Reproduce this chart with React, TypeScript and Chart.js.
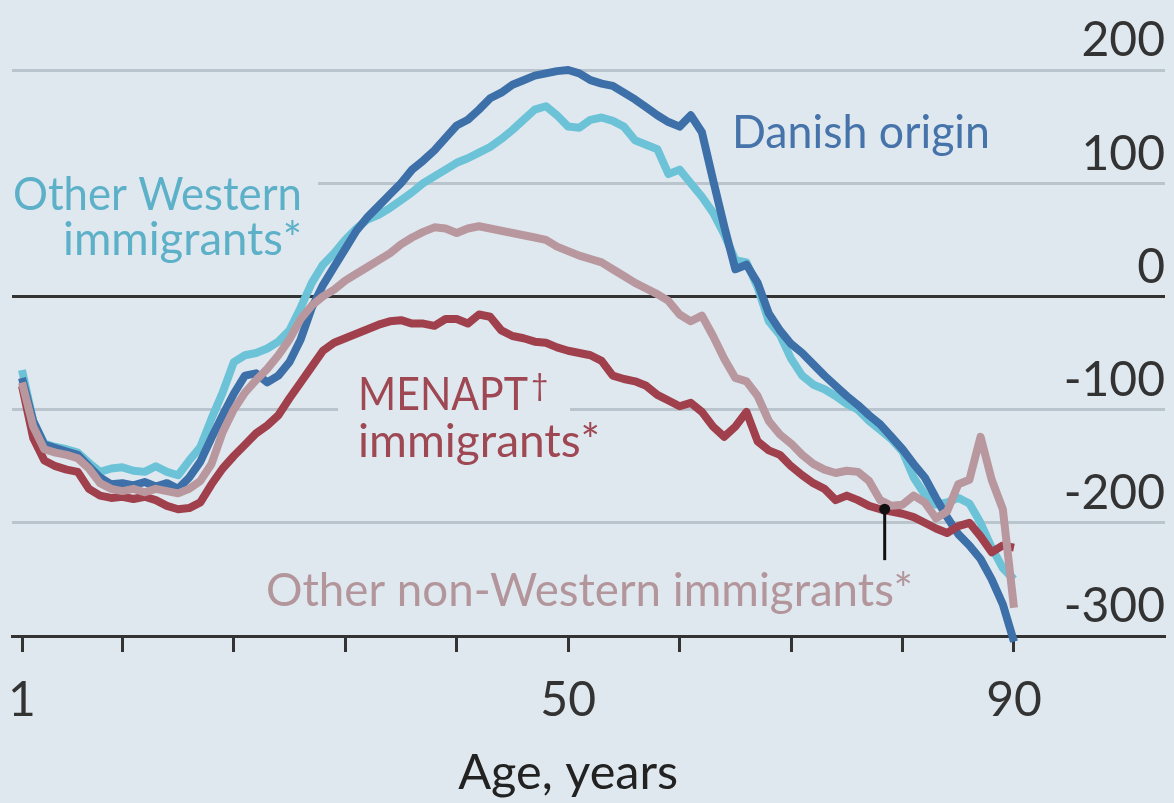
import { useEffect, useRef } from "react";
import { Chart, registerables } from "chart.js";

Chart.register(...registerables);

// ---------- data ----------
const ages: number[] = Array.from({ length: 90 }, (_, i) => i + 1);

const danishOrigin: number[] = [
  -72, -110, -131, -134, -137, -140, -150, -160, -166, -165,
  -167, -164, -168, -165, -170, -160, -146, -125, -105, -86,
  -70, -68, -76, -70, -58, -38, -10, 10, 26, 42,
  58, 70, 80, 90, 100, 112, 120, 129, 140, 151,
  156, 165, 175, 180, 187, 191, 195, 197, 199, 200,
  197, 191, 188, 186, 180, 174, 167, 160, 154, 150,
  160, 145, 103, 62, 24, 28, 12, -15, -30, -42,
  -50, -60, -70, -79, -88, -96, -105, -113, -124, -135,
  -148, -160, -178, -195, -210, -220, -232, -250, -272, -305,
];

const otherWestern: number[] = [
  -65, -110, -130, -133, -135, -138, -147, -155, -152, -151,
  -154, -155, -150, -155, -158, -145, -133, -108, -85, -58,
  -52, -50, -46, -40, -30, -10, 12, 28, 38, 50,
  60, 68, 72, 78, 85, 92, 100, 106, 112, 118,
  122, 127, 132, 139, 147, 156, 165, 168, 160, 150,
  149, 156, 158, 155, 150, 138, 134, 130, 108, 112,
  100, 88, 74, 55, 32, 30, 8, -22, -34, -55,
  -70, -78, -82, -88, -95, -100, -110, -118, -126, -137,
  -160, -175, -184, -182, -178, -183, -200, -222, -240, -250,
];

const menapt: number[] = [
  -79, -125, -145, -150, -153, -155, -170, -176, -178, -177,
  -179, -177, -180, -185, -188, -187, -182, -166, -152, -141,
  -131, -121, -114, -105, -90, -76, -62, -48, -41, -37,
  -33, -29, -25, -22, -21, -24, -24, -26, -20, -20,
  -24, -16, -18, -30, -35, -37, -40, -41, -45, -48,
  -50, -52, -57, -70, -73, -75, -79, -87, -92, -97,
  -94, -102, -115, -124, -115, -102, -128, -136, -140, -150,
  -158, -165, -170, -180, -176, -180, -185, -188, -190, -192,
  -195, -200, -205, -209, -203, -200, -212, -226, -220, -222,
];

const otherNonWestern: number[] = [
  -76, -115, -135, -138, -140, -143, -152, -165, -170, -172,
  -170, -173, -170, -172, -174, -170, -163, -148, -120, -100,
  -85, -74, -64, -52, -38, -20, -8, 0, 6, 14,
  20, 26, 32, 38, 46, 52, 57, 61, 60, 56,
  60, 62, 60, 58, 56, 54, 52, 50, 44, 40,
  36, 33, 30, 24, 18, 12, 7, 2, -4, -16,
  -22, -17, -35, -55, -72, -75, -88, -110, -122, -130,
  -140, -148, -153, -156, -154, -155, -163, -180, -185, -184,
  -176, -182, -196, -190, -166, -162, -124, -162, -188, -275,
];

const xTickValues: number[] = [1, 10, 20, 30, 40, 50, 60, 70, 80, 90];
const xTickLabels: number[] = [1, 50, 90];
const yTickValues: number[] = [-300, -200, -100, 0, 100, 200];
const xTitle = "Age, years";
const xTitleCenterAge = 50;

// annotation anchor (age, value) for the "Other non-Western" pointer
const pointerAge = 78.4;
const pointerValue = -188;
const pointerEndValue = -233;

// ---------- styles ----------
const BG = "#dfe8ee";
const FONT = 'Lato, "Open Sans", sans-serif';
const C_DANISH = "#3d6fa8";
const C_WEST = "#6cc3d8";
const C_MENAPT = "#a0404c";
const C_NONWEST = "#b8989e";

type Lbl = {
  text: string;
  x: number;
  y: number;
  w: number;
  align: CanvasTextAlign;
  color: string;
  sup?: string;
};

const LABELS: Lbl[] = [
  { text: "Other Western", x: 302, y: 210, w: 289, align: "right", color: "#5cb0c8" },
  { text: "immigrants*", x: 302, y: 255, w: 239, align: "right", color: "#5cb0c8" },
  { text: "MENAPT", x: 358, y: 410, w: 170, align: "left", color: "#9e4854", sup: "\u2020" },
  { text: "immigrants*", x: 358, y: 457, w: 242, align: "left", color: "#9e4854" },
  { text: "Danish origin", x: 732, y: 148, w: 258, align: "left", color: "#4573aa" },
  { text: "Other non-Western immigrants*", x: 913, y: 606, w: 647, align: "right", color: "#b3969c" },
];

const KNOCKOUTS = [
  { x: 4, y: 160, w: 314, h: 110 },
  { x: 338, y: 366, w: 232, h: 106 },
];

function fitText(
  ctx: CanvasRenderingContext2D,
  text: string,
  x: number,
  y: number,
  w: number,
  align: CanvasTextAlign,
  color: string,
  size: number
) {
  ctx.save();
  ctx.font = `${size}px ${FONT}`;
  ctx.textBaseline = "alphabetic";
  const m = ctx.measureText(text).width;
  ctx.translate(x, y);
  ctx.scale(w / m, 1);
  ctx.textAlign = align;
  ctx.fillStyle = color;
  ctx.fillText(text, 0, 0);
  ctx.restore();
}

const overlayPlugin = {
  id: "overlay",
  beforeDraw(chart: any) {
    const ctx = chart.ctx;
    ctx.save();
    ctx.fillStyle = BG;
    ctx.fillRect(0, 0, chart.width, chart.height);
    ctx.restore();
  },
  beforeDatasetsDraw(chart: any) {
    const ctx: CanvasRenderingContext2D = chart.ctx;
    ctx.save();
    ctx.fillStyle = BG;
    KNOCKOUTS.forEach((k) => ctx.fillRect(k.x, k.y, k.w, k.h));
    LABELS.forEach((l) => {
      fitText(ctx, l.text, l.x, l.y, l.w, l.align, l.color, 46);
      if (l.sup) {
        ctx.save();
        ctx.font = `30px ${FONT}`;
        ctx.fillStyle = l.color;
        ctx.textAlign = "left";
        ctx.textBaseline = "alphabetic";
        ctx.fillText(l.sup, l.x + l.w + 3, l.y - 14);
        ctx.restore();
      }
    });
    // axis title, centred under the 50 tick
    const xs = chart.scales.x;
    fitText(ctx, xTitle, xs.getPixelForValue(xTitleCenterAge), 789, 220, "center", "#222", 48);
    ctx.restore();
  },
  afterDatasetsDraw(chart: any) {
    const ctx: CanvasRenderingContext2D = chart.ctx;
    const xs = chart.scales.x;
    const ys = chart.scales.y;
    const px = xs.getPixelForValue(pointerAge);
    const py = ys.getPixelForValue(pointerValue);
    const py2 = ys.getPixelForValue(pointerEndValue);
    ctx.save();
    ctx.strokeStyle = "#111";
    ctx.lineWidth = 3;
    ctx.beginPath();
    ctx.moveTo(px, py);
    ctx.lineTo(px, py2);
    ctx.stroke();
    ctx.fillStyle = "#111";
    ctx.beginPath();
    ctx.arc(px, py, 5.5, 0, Math.PI * 2);
    ctx.fill();
    ctx.restore();
  },
};

function series(values: number[]) {
  return ages.map((a, i) => ({ x: a, y: values[i] }));
}

export default function App() {
  const ref = useRef<HTMLCanvasElement | null>(null);

  useEffect(() => {
    document.body.style.margin = "0";
    document.body.style.background = BG;
    const canvas = ref.current;
    if (!canvas) return;
    const chart = new Chart(canvas, {
      type: "line",
      data: {
        datasets: [
          { label: "Other non-Western immigrants*", data: series(otherNonWestern), borderColor: C_NONWEST },
          { label: "MENAPT immigrants*", data: series(menapt), borderColor: C_MENAPT },
          { label: "Danish origin", data: series(danishOrigin), borderColor: C_DANISH },
          { label: "Other Western immigrants*", data: series(otherWestern), borderColor: C_WEST },
        ].map((d) => ({
          ...d,
          borderWidth: 8,
          pointRadius: 0,
          tension: 0,
          fill: false,
          clip: false as any,
          borderJoinStyle: "round" as const,
        })),
      },
      options: {
        animation: false,
        responsive: false,
        maintainAspectRatio: false,
        events: [],
        layout: { padding: { left: 12, right: 9, top: 70, bottom: 0 } },
        plugins: { legend: { display: false }, tooltip: { enabled: false } },
        scales: {
          x: {
            type: "linear",
            min: 0.1,
            max: 103.55,
            afterBuildTicks: (s: any) => {
              s.ticks = xTickValues.map((v) => ({ value: v }));
            },
            afterFit: (s: any) => {
              s.height = 167;
              s.paddingLeft = 0;
              s.paddingRight = 0;
            },
            grid: {
              drawOnChartArea: false,
              drawTicks: true,
              tickLength: 16,
              tickWidth: 3,
              tickColor: "#333",
            },
            border: { display: true, color: "#333", width: 3 },
            ticks: {
              autoSkip: false,
              maxRotation: 0,
              padding: 20,
              color: "#333",
              font: { family: FONT, size: 48 },
              callback: (v: any) => (xTickLabels.includes(Number(v)) ? String(v) : ""),
            },
            title: { display: false },
          },
          y: {
            position: "right",
            min: -300,
            max: 200,
            afterBuildTicks: (s: any) => {
              s.ticks = yTickValues.map((v) => ({ value: v }));
            },
            afterFit: (s: any) => {
              s.width = 0;
              s.paddingTop = 0;
              s.paddingBottom = 0;
            },
            grid: {
              drawTicks: false,
              lineWidth: 3,
              color: (c: any) =>
                c.tick && (c.tick.value === 0 || c.tick.value === -300) ? "#333" : "#b9c4cc",
            },
            border: { display: false },
            ticks: {
              mirror: true,
              padding: 0,
              labelOffset: -29,
              color: "#333",
              font: { family: FONT, size: 48 },
              callback: (v: any) => String(v),
            },
          },
        },
      },
      plugins: [overlayPlugin],
    });
    return () => chart.destroy();
  }, []);

  return (
    <div style={{ width: 1174, height: 803, background: BG }}>
      <canvas ref={ref} width={1174} height={803} style={{ display: "block", width: 1174, height: 803 }} />
    </div>
  );
}
